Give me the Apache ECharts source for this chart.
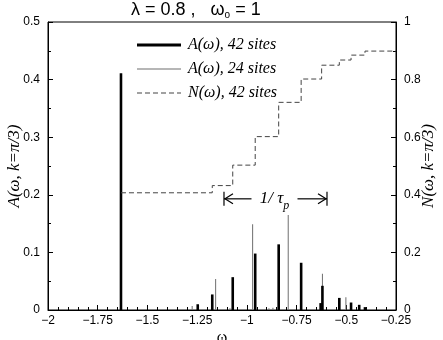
<!DOCTYPE html>
<html>
<head>
<meta charset="utf-8">
<script src="https://cdn.jsdelivr.net/npm/echarts@6/dist/echarts.min.js"></script>
<style>
html, body { margin: 0; padding: 0; background: #fff; }
#chart { width: 443px; height: 340px; }
</style>
</head>
<body>
<div id="chart"></div>
<script>
// A(w) peaks, 42 sites (black)
const omega42 = [-1.633, -1.247, -1.174, -1.071, -0.958, -0.840, -0.727, -0.629, -0.620, -0.535, -0.476, -0.435, -0.406];
const spec42  = [0.411, 0.010, 0.027, 0.057, 0.098, 0.114, 0.082, 0.012, 0.042, 0.021, 0.013, 0.009, 0.005];
// A(w) peaks, 24 sites (grey)
const omega24 = [-1.633, -1.275, -1.157, -1.085, -0.971, -0.889, -0.869, -0.792, -0.620, -0.502];
const spec24  = [0.410, 0.007, 0.054, 0.003, 0.149, 0.003, 0.004, 0.165, 0.063, 0.022];
// N(w), 42 sites (step, right axis)
const nOmega = [-1.633, -1.174, -1.071, -0.958, -0.840, -0.727, -0.624, -0.535, -0.476, -0.406, -0.25];
const nValue = [0.407, 0.432, 0.503, 0.602, 0.721, 0.802, 0.850, 0.868, 0.885, 0.899, 0.899];
// 1/tau_p marker: from, to, height (left axis)
const tauMark = [[-1.115, -0.597, 0.193]];

const xTicks = { min: -2, max: -0.25, interval: 0.25 };

let myChart = echarts.init(document.getElementById('chart'));

function pairs(xs, ys) {
    let res = [];
    for (let i = 0; i < xs.length; i++) {
        res.push([xs[i], ys[i]]);
    }
    return res;
}

function peakRenderer(width) {
    return function (params, api) {
        let base = api.coord([api.value(0), 0]);
        let top = api.coord([api.value(0), api.value(1)]);
        return {
            type: 'rect',
            shape: { x: base[0] - width / 2, y: top[1], width: width, height: base[1] - top[1] },
            style: { fill: api.visual('color') }
        };
    };
}

const serifFont = '"Liberation Serif", "DejaVu Serif", serif';
const sansFont = '"Liberation Sans", Arial, sans-serif';

let axisCommon = {
    axisLine: { show: true, lineStyle: { color: '#000', width: 1 } },
    axisTick: { show: true, inside: true, length: 5, lineStyle: { color: '#000' } },
    splitLine: { show: false },
    nameMoveOverlap: false,
    axisLabel: { color: '#000', fontFamily: sansFont, fontSize: 12 }
};

let option = {
    backgroundColor: '#fff',
    animation: false,
    title: {
        left: 126,
        top: -5,
        text: '{a|λ = 0.8 ,   ω}{s|o}{a| = 1}',
        textStyle: {
            fontWeight: 'normal',
            rich: {
                a: { fontFamily: sansFont, fontSize: 18, fontWeight: 'normal', color: '#000' },
                s: { fontFamily: sansFont, fontSize: 10, fontWeight: 'normal', color: '#000', padding: [10, 0, 0, 0] }
            }
        }
    },
    grid: {
        left: 48, right: 47, top: 22, bottom: 30,
        containLabel: false,
        outerBoundsMode: 'none',
        show: true, borderColor: '#000', borderWidth: 1
    },
    legend: {
        orient: 'vertical',
        left: 132,
        top: 32,
        itemWidth: 44,
        itemHeight: 14,
        itemGap: 8,
        selectedMode: false,
        textStyle: {
            fontFamily: serifFont, fontStyle: 'italic', fontSize: 16, color: '#000',
            lineHeight: 16,
            padding: [0, 0, 0, 2]
        },
        data: [
            { name: 'A(ω), 42 sites', icon: 'path://M0,0H44V3H0Z' },
            { name: 'A(ω), 24 sites', icon: 'path://M0,0H44V1H0Z' },
            { name: 'N(ω), 42 sites', icon: 'path://M0,0H5V1H0Z M8,0H13V1H8Z M16,0H21V1H16Z M24,0H29V1H24Z M32,0H37V1H32Z M40,0H44V1H40Z' }
        ]
    },
    xAxis: Object.assign({}, axisCommon, {
        type: 'value',
        min: xTicks.min,
        max: xTicks.max,
        interval: xTicks.interval,
        minorTick: { show: true, splitNumber: 5, length: 3, lineStyle: { color: '#000' } },
        axisLabel: {
            color: '#000', fontFamily: sansFont, fontSize: 12, margin: 5,
            formatter: function (v) { return String(v).replace('-', '−'); }
        },
        name: 'ω',
        nameLocation: 'middle',
        nameGap: 20,
        nameTextStyle: { fontFamily: serifFont, fontSize: 16, color: '#000', verticalAlign: 'top' }
    }),
    yAxis: [
        Object.assign({}, axisCommon, {
            type: 'value',
            min: 0, max: 0.5, interval: 0.1,
            position: 'left',
            minorTick: { show: true, splitNumber: 2, length: 3, lineStyle: { color: '#000' } },
            name: 'A(ω, k=π/3)',
            nameLocation: 'middle',
            nameGap: 33,
            nameTextStyle: { fontFamily: serifFont, fontStyle: 'italic', fontSize: 17, color: '#000', verticalAlign: 'middle' }
        }),
        Object.assign({}, axisCommon, {
            type: 'value',
            min: 0, max: 1, interval: 0.2,
            position: 'right',
            minorTick: { show: true, splitNumber: 2, length: 3, lineStyle: { color: '#000' } },
            name: 'N(ω, k=π/3)',
            nameLocation: 'middle',
            nameGap: 33,
            nameRotate: 90,
            nameTextStyle: { fontFamily: serifFont, fontStyle: 'italic', fontSize: 17, color: '#000', verticalAlign: 'middle' }
        })
    ],
    series: [
        {
            name: 'A(ω), 24 sites',
            type: 'custom',
            coordinateSystem: 'cartesian2d',
            yAxisIndex: 0,
            color: '#6e6e6e',
            renderItem: peakRenderer(1),
            data: pairs(omega24, spec24),
            silent: true
        },
        {
            name: 'A(ω), 42 sites',
            type: 'custom',
            coordinateSystem: 'cartesian2d',
            yAxisIndex: 0,
            color: '#000',
            renderItem: peakRenderer(2.6),
            data: pairs(omega42, spec42),
            silent: true
        },
        {
            name: 'N(ω), 42 sites',
            type: 'line',
            yAxisIndex: 1,
            step: 'end',
            symbol: 'none',
            showSymbol: false,
            color: '#444',
            lineStyle: { color: '#444', width: 1, type: [5, 3] },
            data: pairs(nOmega, nValue),
            silent: true
        },
        {
            name: 'tau',
            type: 'custom',
            coordinateSystem: 'cartesian2d',
            yAxisIndex: 0,
            silent: true,
            renderItem: function (params, api) {
                let a = api.coord([api.value(0), api.value(2)]);
                let b = api.coord([api.value(1), api.value(2)]);
                let y = a[1];
                let mid = (a[0] + b[0]) / 2;
                let st = { stroke: '#000', lineWidth: 1.2, fill: null };
                return {
                    type: 'group',
                    children: [
                        { type: 'line', shape: { x1: a[0], y1: y - 7, x2: a[0], y2: y + 7 }, style: st },
                        { type: 'line', shape: { x1: b[0], y1: y - 7, x2: b[0], y2: y + 7 }, style: st },
                        { type: 'line', shape: { x1: a[0], y1: y, x2: mid - 24, y2: y }, style: st },
                        { type: 'line', shape: { x1: mid + 22, y1: y, x2: b[0], y2: y }, style: st },
                        { type: 'polyline', shape: { points: [[a[0] + 9, y - 5], [a[0] + 1, y], [a[0] + 9, y + 5]] }, style: st },
                        { type: 'polyline', shape: { points: [[b[0] - 9, y - 5], [b[0] - 1, y], [b[0] - 9, y + 5]] }, style: st },
                        {
                            type: 'text',
                            x: mid - 1, y: y,
                            style: {
                                text: '{i|1/ τ}{s|p}',
                                align: 'center',
                                verticalAlign: 'middle',
                                rich: {
                                    i: { fontFamily: serifFont, fontStyle: 'italic', fontSize: 17, fill: '#000' },
                                    s: { fontFamily: serifFont, fontStyle: 'italic', fontSize: 12, fill: '#000', padding: [14, 0, 0, 0] }
                                }
                            }
                        }
                    ]
                };
            },
            data: tauMark
        }
    ]
};

myChart.setOption(option);
</script>
</body>
</html>
